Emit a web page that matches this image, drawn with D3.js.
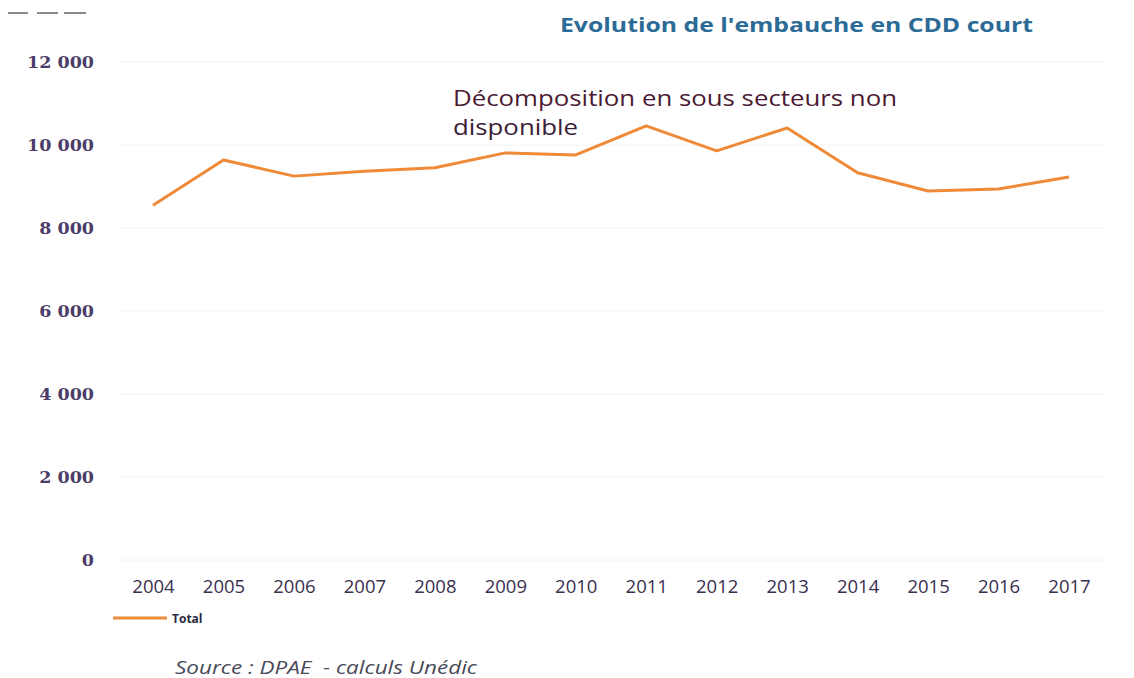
<!DOCTYPE html>
<html>
<head>
<meta charset="utf-8">
<script src="https://cdn.jsdelivr.net/npm/d3@7"></script>
<style>
  body { margin: 0; background: #fff; }
  svg { display: block; }
</style>
</head>
<body>
<div id="chart"></div>
<script>
// data
const years = [2004, 2005, 2006, 2007, 2008, 2009, 2010, 2011, 2012, 2013, 2014, 2015, 2016, 2017];
const total = [8550, 9640, 9250, 9370, 9450, 9810, 9760, 10460, 9860, 10410, 9330, 8890, 8940, 9230];
const yTicks = [0, 2000, 4000, 6000, 8000, 10000, 12000];

const W = 1134, H = 678;

const svg = d3.select("#chart").append("svg")
    .attr("width", W)
    .attr("height", H);

const x = d3.scalePoint()
    .domain(years)
    .range([153, 1069]);

const y = d3.scaleLinear()
    .domain([0, 12000])
    .range([560, 62]);

// small gray dashes top left
svg.selectAll("line.dash")
    .data([[8, 28], [37, 58], [64, 86]])
    .enter()
    .append("line")
    .attr("class", "dash")
    .attr("x1", d => d[0]).attr("x2", d => d[1])
    .attr("y1", 13).attr("y2", 13)
    .attr("stroke", "#8a8a8a")
    .attr("stroke-width", 2);

// Title
svg.append("text")
    .attr("x", 560)
    .attr("y", 32)
    .attr("font-family", "'Open Sans', sans-serif")
    .attr("font-weight", "bold")
    .attr("font-size", 20)
    .attr("fill", "#2b6b96")
    .attr("textLength", 473)
    .attr("lengthAdjust", "spacingAndGlyphs")
    .text("Evolution de l'embauche en CDD court");

// faint gridlines
svg.append("g")
    .selectAll("line")
    .data(yTicks)
    .enter()
    .append("line")
    .attr("x1", 118).attr("x2", 1104)
    .attr("y1", d => y(d)).attr("y2", d => y(d))
    .attr("stroke", "#f4f4f4")
    .attr("stroke-width", 1);

// Y axis labels
const yAxis = svg.append("g")
    .attr("transform", "translate(94,0)")
    .call(d3.axisLeft(y)
        .tickValues(yTicks)
        .tickSize(0)
        .tickPadding(0)
        .tickFormat(d => d3.format(",")(d).replace(/,/g, " ")));
yAxis.select(".domain").remove();
yAxis.selectAll("text")
    .attr("font-family", "'DejaVu Serif', serif")
    .attr("font-weight", "bold")
    .attr("font-size", 17.5)
    .attr("fill", "#4b3d68");

// X axis labels
const xAxis = svg.append("g")
    .attr("transform", "translate(0,580)")
    .call(d3.axisBottom(x).tickSize(0).tickPadding(0));
xAxis.select(".domain").remove();
xAxis.selectAll("text")
    .attr("font-family", "'Open Sans', sans-serif")
    .attr("font-size", 18.5)
    .attr("fill", "#3a3050");

// Line
const line = d3.line()
    .x((d, i) => x(years[i]))
    .y(d => y(d));

svg.append("path")
    .datum(total)
    .attr("d", line)
    .attr("fill", "none")
    .attr("stroke", "#ee8a38")
    .attr("stroke-width", 3)
    .attr("stroke-linejoin", "round");

// Annotation (two lines)
svg.append("text")
    .attr("x", 453)
    .attr("y", 106)
    .attr("font-family", "'Open Sans', sans-serif")
    .attr("font-size", 21)
    .attr("fill", "#4a1a32")
    .attr("textLength", 444)
    .attr("lengthAdjust", "spacingAndGlyphs")
    .text("Décomposition en sous secteurs non");
svg.append("text")
    .attr("x", 453)
    .attr("y", 135)
    .attr("font-family", "'Open Sans', sans-serif")
    .attr("font-size", 21)
    .attr("fill", "#3a2036")
    .attr("textLength", 125)
    .attr("lengthAdjust", "spacingAndGlyphs")
    .text("disponible");

// Legend
svg.append("line")
    .attr("x1", 113).attr("x2", 167)
    .attr("y1", 618).attr("y2", 618)
    .attr("stroke", "#ee8a38")
    .attr("stroke-width", 3);
svg.append("text")
    .attr("x", 172)
    .attr("y", 623)
    .attr("font-family", "'Open Sans', sans-serif")
    .attr("font-weight", "bold")
    .attr("font-size", 12)
    .attr("fill", "#2a2a40")
    .text("Total");

// Source
svg.append("text")
    .attr("x", 175)
    .attr("y", 674)
    .attr("font-family", "'Open Sans', sans-serif")
    .attr("font-style", "italic")
    .attr("font-size", 18)
    .attr("fill", "#4a4a5a")
    .attr("xml:space", "preserve")
    .attr("textLength", 302)
    .attr("lengthAdjust", "spacingAndGlyphs")
    .text("Source : DPAE  - calculs Unédic");
</script>
</body>
</html>
